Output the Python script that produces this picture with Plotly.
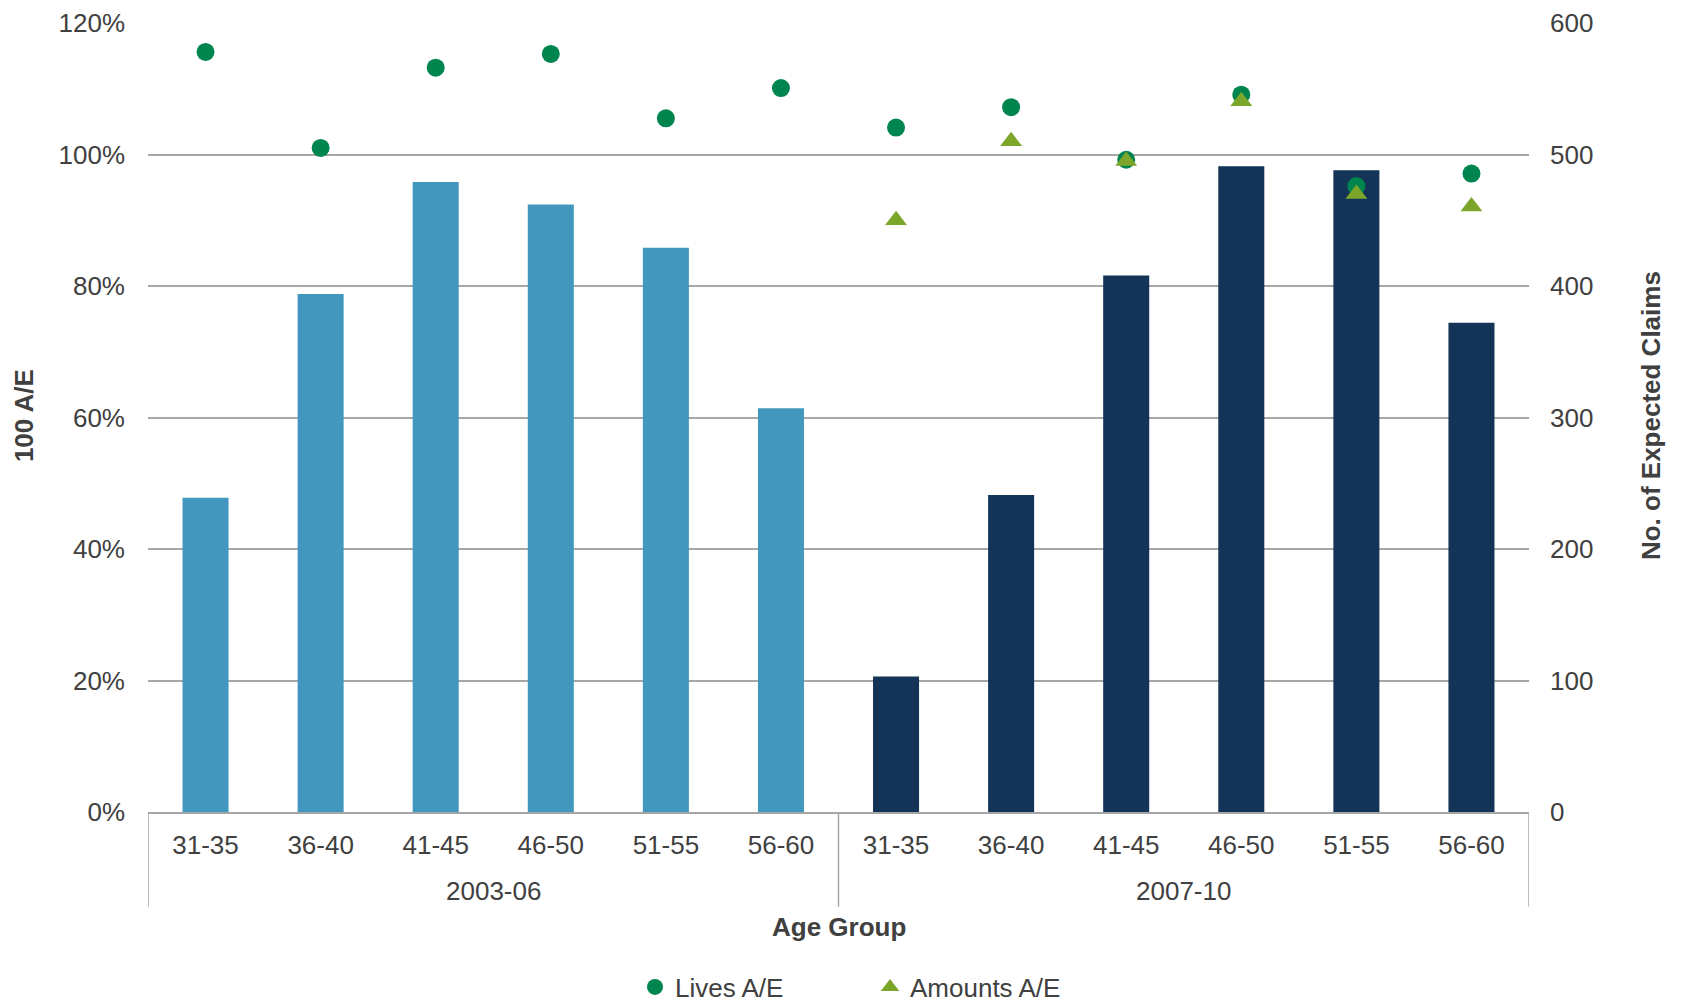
import plotly.graph_objects as go

periods = ["2003-06"] * 6 + ["2007-10"] * 6
age_groups = ["31-35", "36-40", "41-45", "46-50", "51-55", "56-60"] * 2

expected_claims = [239, 394, 479, 462, 429, 307,
                   103, 241, 408, 491, 488, 372]
lives_ae = [1.156, 1.010, 1.132, 1.153, 1.055, 1.101,
            1.041, 1.072, 0.992, 1.091, 0.952, 0.971]
amounts_periods = ["2007-10"] * 6
amounts_ages = ["31-35", "36-40", "41-45", "46-50", "51-55", "56-60"]
amounts_ae = [0.900, 1.020, 0.990, 1.081, 0.940, 0.921]

bar_colors = ["#4197BD"] * 6 + ["#133457"] * 6
text_color = "#404040"
grid_color = "#A6A6A6"
font_family = "Liberation Sans, Arial, sans-serif"

# one category per (period, age group) pair, labelled with the age group only
keys = [f"{p} {a}" for p, a in zip(periods, age_groups)]
amount_keys = [f"{p} {a}" for p, a in zip(amounts_periods, amounts_ages)]

fig = go.Figure()

# bars on the primary axis (shown on the right) so the markers draw on top
fig.add_trace(go.Bar(
    x=keys,
    y=expected_claims,
    marker=dict(color=bar_colors, line=dict(width=0)),
    width=0.4,
    showlegend=False,
    yaxis='y'
))

fig.add_trace(go.Scatter(
    x=keys,
    y=lives_ae,
    mode='markers',
    name='Lives A/E',
    marker=dict(symbol='circle', size=18, color='#00854F'),
    yaxis='y2'
))

fig.add_trace(go.Scatter(
    x=amount_keys,
    y=amounts_ae,
    mode='markers',
    name='Amounts A/E',
    marker=dict(symbol='triangle-up', size=19, color='#7BA62A'),
    yaxis='y2'
))

# period labels under the age groups, with dividers between periods
group_names = list(dict.fromkeys(periods))
start = 0
bounds = [-0.5]
for g in group_names:
    n = periods.count(g)
    fig.add_annotation(x=start + (n - 1) / 2, y=-0.1007, xref='x', yref='paper',
                       text=g, showarrow=False, yanchor='middle',
                       font=dict(size=26, color=text_color))
    start += n
    bounds.append(start - 0.5)
for b in bounds:
    fig.add_shape(type='line', xref='x', yref='paper', x0=b, x1=b, y0=0, y1=-0.12,
                  line=dict(color=grid_color, width=1.5))

fig.add_annotation(x=0.5, y=-0.1463, xref='paper', yref='paper', text='<b>Age Group</b>',
                   showarrow=False, yanchor='middle', font=dict(size=26, color=text_color))
fig.add_annotation(x=-0.0898, y=0.503, xref='paper', yref='paper', text='<b>100 A/E</b>',
                   showarrow=False, textangle=-90, xanchor='center', yanchor='middle',
                   font=dict(size=26, color=text_color))
fig.add_annotation(x=1.0883, y=0.503, xref='paper', yref='paper',
                   text='<b>No. of Expected Claims</b>', showarrow=False, textangle=-90,
                   xanchor='center', yanchor='middle', font=dict(size=26, color=text_color))

# page body has an 8px margin, so the figure is sized to fit inside the window
fig.update_layout(
    width=1675,
    height=999,
    margin=dict(l=140, r=154, t=15, b=194.5),
    paper_bgcolor='white',
    plot_bgcolor='white',
    font=dict(family=font_family, size=26, color=text_color),
    xaxis=dict(
        type='category',
        range=[-0.5, len(keys) - 0.5],
        tickvals=keys,
        ticktext=age_groups,
        showline=True,
        linecolor=grid_color,
        linewidth=1.5,
        showgrid=False,
        automargin=False,
        ticklabelstandoff=9,
        tickfont=dict(size=26, color=text_color)
    ),
    yaxis=dict(
        side='right',
        range=[0, 600],
        dtick=100,
        showgrid=True,
        gridcolor=grid_color,
        gridwidth=1.5,
        zeroline=False,
        showline=False,
        automargin=False,
        ticklabelstandoff=20,
        ticklabeloverflow='allow',
        tickfont=dict(size=26, color=text_color)
    ),
    yaxis2=dict(
        overlaying='y',
        side='left',
        range=[0, 1.2],
        dtick=0.2,
        tickformat='.0%',
        showgrid=False,
        zeroline=False,
        showline=False,
        automargin=False,
        ticklabelstandoff=22,
        ticklabeloverflow='allow',
        tickfont=dict(size=26, color=text_color)
    ),
    legend=dict(
        orientation='h',
        x=(655 - 148 - 20) / 1381,
        xanchor='left',
        yref='container',
        y=0.02,
        yanchor='middle',
        font=dict(size=26, color=text_color),
        entrywidth=190,
        entrywidthmode='pixels',
        itemsizing='trace'
    ),
    bargap=0.6
)

fig.write_html("out.html")
